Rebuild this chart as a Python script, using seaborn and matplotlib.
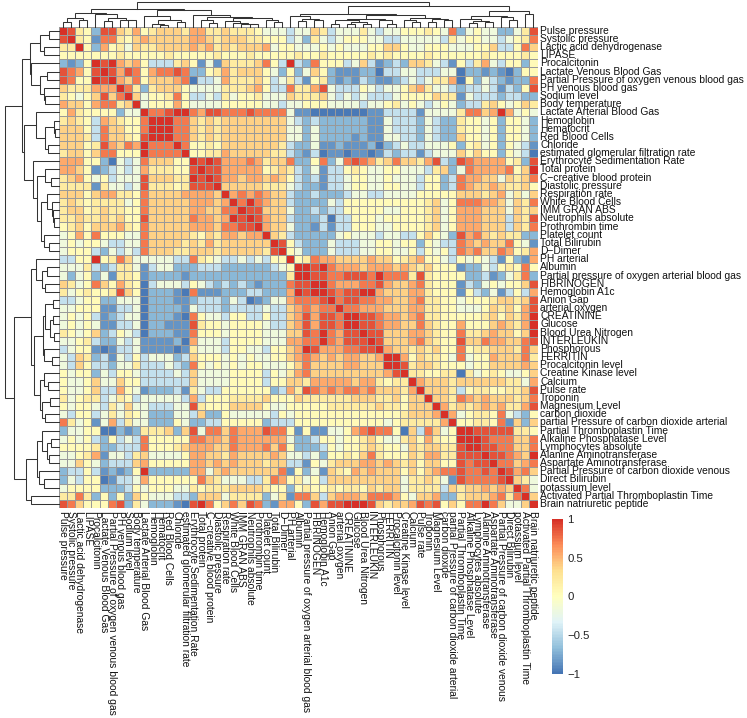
import numpy as np
import pandas as pd
import matplotlib
matplotlib.use("Agg")
import matplotlib.pyplot as plt
from matplotlib.colors import LinearSegmentedColormap
import seaborn as sns

labels = [
    "Pulse pressure", "Systolic pressure", "Lactic acid dehydrogenase", "LIPASE", "Procalcitonin",
    "Lactate Venous Blood Gas", "Partial Pressure of oxygen venous blood gas", "PH venous blood gas",
    "Sodium level", "Body temperature", "Lactate Arterial Blood Gas", "Hemoglobin", "Hematocrit",
    "Red Blood Cells", "Chloride", "estimated glomerular filtration rate", "Erythrocyte Sedimentation Rate",
    "Total protein", "C\u2212creative blood protein", "Diastolic pressure", "Respiration rate",
    "White Blood Cells", "IMM GRAN ABS", "Neutrophils absolute", "Prothrombin time", "Platelet count",
    "Total Bilirubin", "D\u2212Dimer", "PH arterial", "Albumin", "Partial pressure of oxygen arterial blood gas",
    "FIBRINOGEN", "Hemoglobin A1c", "Anion Gap", "arterial oxygen", "CREATININE", "Glucose",
    "Blood Urea Nitrogen", "INTERLEUKIN", "Phosphorous", "FERRITIN", "Procalcitonin level",
    "Creatine Kinase level", "Calcium", "Pulse rate", "Troponin", "Magnesium Level", "carbon dioxide",
    "partial Pressure of carbon dioxide arterial", "Partial Thromboplastin Time",
    "Alkaline Phosphatase Level", "Lymphocytes absolute", "Alanine Aminotransferase",
    "Aspartate Aminotransferase", "Partial Pressure of carbon dioxide venous", "Direct Bilirubin",
    "potassium level", "Activated Partial Thromboplastin Time", "Brain natriuretic peptide",
]

# correlation, one letter per cell, upper triangle only
levels = dict(a=-0.98, b=-0.85, c=-0.68, d=-0.45, e=-0.18, f=0.04, g=0.2, h=0.38, i=0.55, j=0.72, k=0.87, l=0.99)
upper_rows = [
    "lkgfckkhgi fghhhgiigg hgggfeeede ehgdeeeged eefffgfejc efeeccegk",
    "lgfbjjgfh ihhhhhiihg hhhggfffde cgedefffee ddeeeeedge ffeedefgj",
    "lfcifgeh gghhhhihig hghhhieffe eefefeeeff hhfeefffee effhddfjh",
    "ffffgff fffgfffffg fffgfffffg ffgfffffgf gffffgffff ffgffffgf",
    "lklihi fdddghfbeb hggghjfdld cjfffdehdb cdchhgedbf dgiedffcf",
    "lkikj fijjkjccfg ighhhfecfc ehfcbbbcca ddeedddeea ccbcbacff",
    "lihj fhhhijadde iggghfdegd bfgcbcbdcb bcdedeggia fcedcbccj",
    "ljg cghhhfeeee ggghifddjg gikedddfed eefhigeedc ddedbdcfk",
    "lh effgjfdded geffgeeehg gghedededd deffffhggb edddcddcc",
    "l efffifeeee fffffeedee fffeeeedee fgefedefec ddghfefhg",
    "ljjklljikk jjjkjjjjeb baaaaaaabb ddddbeeeeg jjhiliefe",
    "llljjhghg hhhhhhhhed cdccccccbb edddcedccg ffefcffec",
    "lljjhghg hhhhhhhhee ceccccccbb edddcedccg ffefcffec",
    "ljjhghg hhhhhhhhee ceccccbcbb eeddcedcch ffefcffec",
    "ljffgf hhhhhhhgdc cebbcbbbca cdeddeeefc fgefcfedb",
    "lffgg ihhhhhggdc bdabbabbab dcddbdeeeh fhffcfeda",
    "lklk iiijighhjc cfjcejkjig hjhhgikdck jiiiifgck",
    "lkk iiiiifghgd cebddfgfee ffeeedghce jiiiijfhl",
    "lk iihiihihfd cdbddeffee feeedffcdj iihhehghj",
    "l hhhhhggged ccbddeffee ffeedffcdj ihhihgghf",
    "lijijihhdc cdcccdeedd eeeefffffh hhghiegeh",
    "ljljihhdc cccedfffff fffffghefj jjiihehgj",
    "lkkhhhec cdcddfffff eefffghefi iihhhehgh",
    "lkihhdc ccdaddfffe fffffghefi iihhhdhgk",
    "lihhec cbdbddfffe effffghefi iihhhdhgj",
    "lhgdc ccccefeeed eeddfhfeck ijhghggcc",
    "lkfd cccedddeef feffcfeddj ihihhjfeb",
    "lfe cccedddeef feefdfefdj ijhhjifgi",
    "lf gjiihhhhih hfghiffedf efedbfcbi",
    "l lkljiiihii ihihghfffb ccedfgfjf",
    "lkkjjkkkjl jjjgkgffff ccdbcegjc",
    "lljiiijjk ihhijgfffb dcefeffhk",
    "lkjkklli hhhiigfffb fdcebdfdi",
    "ljkkjji ihhijggffe fffghhghk",
    "ljjiii hhhiiggffe eefhghfik",
    "llkkj iihijggfff ffghfhgil",
    "lkkj iihhjhgffi fffhihgil",
    "lkk hhhiihgffj gghihhfhl",
    "lk hhhijhgffk hhjiihhjk",
    "l ihhghghffj fgghhhgjh",
    "llifhggfej effihhhjg",
    "lkghhgfff effhhhhih",
    "lggffgga gefgfeefh",
    "lihhhgh hhhhhggei",
    "lhhhgd fggffgghk",
    "lhhgj ihihhhghj",
    "ligh ghihiggik",
    "lie fggfjedcf",
    "lf fggfjbhch",
    "l lkkkkkggf",
    "llkjjjhhj",
    "lkkjjhhj",
    "lkkjihl",
    "ljjhij",
    "lkijh",
    "lhge",
    "lje",
    "lh",
    "l",
]

# dendrogram as (height, left, right), leaves are 1-based positions
tree_upper = (0.69,
    (0.53,
        (0.35, (0.19, 1, 2), (0.28, 3, 4)),
        (0.52, 5, (0.35, (0.23, 6, 7), (0.27, 8, (0.26, 9, 10))))),
    (0.65,
        (0.43, 11, (0.26, (0.09, 12, (0.08, 13, 14)), (0.20, 15, 16))),
        (0.47, 17,
            (0.40,
                (0.26, 18, (0.14, 19, 20)),
                (0.34,
                    (0.23, 21, (0.13, 22, (0.11, 23, (0.09, 24, 25)))),
                    (0.27, 26, (0.18, 27, 28)))))))
tree_lower = (0.83,
    (0.52,
        (0.43, 29, (0.32, (0.23, 30, 31), (0.26, 32, 33))),
        (0.46,
            (0.29,
                (0.26, (0.11, 34, 35), (0.17, (0.11, 36, 37), (0.10, 38, 39))),
                (0.28, 40, (0.12, 41, 42))),
            (0.35,
                (0.27, 43, (0.20, 44, 45)),
                (0.32, (0.17, 46, 47), (0.26, 48, 49))))),
    (0.61,
        (0.41,
            (0.32, 50, (0.23, (0.14, 51, 52), (0.18, 53, 54))),
            (0.37, 55, (0.27, 56, 57))),
        (0.52, 58, 59)))
tree = (1.0, tree_upper, tree_lower)

cbar_ticks = [-1, -0.5, 0, 0.5, 1]
cbar_labels = ["\u22121", "\u22120.5", "0", "0.5", "1"]

W, H = 747, 718
plt.rcParams["font.family"] = ["Liberation Sans", "DejaVu Sans"]

n = len(labels)
corr = np.zeros((n, n))
for i, row in enumerate(upper_rows):
    row = row.replace(" ", "")
    if len(row) != n - i:
        raise ValueError(f"row {i + 1} has {len(row)} cells, wants {n - i}")
    for j, ch in enumerate(row):
        corr[i, i + j] = levels[ch]
        corr[i + j, i] = levels[ch]
df = pd.DataFrame(corr, index=labels, columns=labels)

cmap = LinearSegmentedColormap.from_list(
    "rdylbu7", ["#4575B4", "#91BFDB", "#E0F3F8", "#FFFFBF", "#FEE090", "#FC8D59", "#D73027"], N=100)


def box(left, top, right, bottom):
    return [left / W, 1 - bottom / H, (right - left) / W, (bottom - top) / H]


fig = plt.figure(figsize=(W / 100, H / 100), dpi=100)
ax = fig.add_axes(box(59, 26.7, 537.5, 508))
cax = fig.add_axes(box(552, 519, 563, 674))
top_ax = fig.add_axes(box(59, 1.7, 537.5, 26.7))
left_ax = fig.add_axes(box(4.7, 26.7, 59, 508))

sns.heatmap(df, ax=ax, cmap=cmap, vmin=-1, vmax=1, linewidths=0.7, linecolor="#999999",
            xticklabels=True, yticklabels=True, cbar_ax=cax, cbar_kws={"ticks": cbar_ticks})
ax.yaxis.tick_right()
ax.tick_params(axis="both", length=0, pad=2)
ax.set_yticklabels(labels, rotation=0, fontsize=7.4, color="#111111", va="center")
ax.set_xticklabels(labels, rotation=270, fontsize=7.4, color="#111111", ha="center", va="top")

cax.set_yticks(cbar_ticks)
cax.set_yticklabels(cbar_labels, fontsize=8.2, color="#222222")
cax.tick_params(length=0, pad=3)
for spine in cax.spines.values():
    spine.set_visible(False)


def draw_tree(node, line):
    # returns (leaf position, height) of this node
    if not isinstance(node, tuple):
        return node - 0.5, 0.0
    height, left, right = node
    lp, lh = draw_tree(left, line)
    rp, rh = draw_tree(right, line)
    line([lp, lp, rp, rp], [lh, height, height, rh])
    return (lp + rp) / 2, height


def top_line(pos, hgt):
    top_ax.plot(pos, hgt, color="#333333", lw=0.75, solid_joinstyle="miter", clip_on=False)


def left_line(pos, hgt):
    left_ax.plot(hgt, pos, color="#333333", lw=0.75, solid_joinstyle="miter", clip_on=False)


draw_tree(tree, top_line)
draw_tree(tree, left_line)
top_ax.set_xlim(0, n)
top_ax.set_ylim(0, 1)
left_ax.set_ylim(n, 0)
left_ax.set_xlim(1, 0)
top_ax.axis("off")
left_ax.axis("off")

fig.savefig("out.png", dpi=100)
